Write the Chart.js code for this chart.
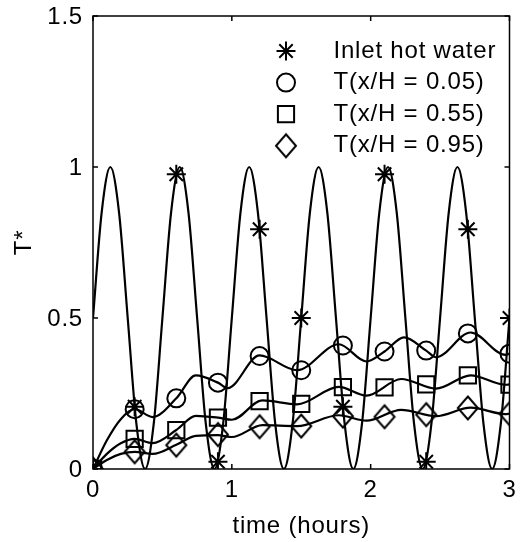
<!DOCTYPE html>
<html>
<head>
<meta charset="utf-8">
<script src="https://cdn.jsdelivr.net/npm/chart.js@4.4.0/dist/chart.umd.min.js"></script>
<style>
body { margin: 0; background: #fff; }
#wrap { width: 523px; height: 542px; }
</style>
</head>
<body>
<div id="wrap"><canvas id="myChart" width="523" height="542"></canvas></div>
<script>
// inlet hot water, smooth curve (hours, T*)
var inletTime = [0, 0.0625, 0.125, 0.1875, 0.25, 0.3125, 0.375, 0.4375,
	0.5, 0.5625, 0.625, 0.6875, 0.75, 0.8125, 0.875, 0.9375,
	1, 1.0625, 1.125, 1.1875, 1.25, 1.3125, 1.375, 1.4375,
	1.5, 1.5625, 1.625, 1.6875, 1.75, 1.8125, 1.875, 1.9375,
	2, 2.0625, 2.125, 2.1875, 2.25, 2.3125, 2.375, 2.4375,
	2.5, 2.5625, 2.625, 2.6875, 2.75, 2.8125, 2.875, 2.9375, 3];
var inletValue = [0.5, 0.85, 1, 0.85, 0.5, 0.15, 0, 0.15,
	0.5, 0.85, 1, 0.85, 0.5, 0.15, 0, 0.15,
	0.5, 0.85, 1, 0.85, 0.5, 0.15, 0, 0.15,
	0.5, 0.85, 1, 0.85, 0.5, 0.15, 0, 0.15,
	0.5, 0.85, 1, 0.85, 0.5, 0.15, 0, 0.15,
	0.5, 0.85, 1, 0.85, 0.5, 0.15, 0, 0.15, 0.5];

// sampled points drawn with markers
var markerTime = [0, 0.3, 0.6, 0.9, 1.2, 1.5, 1.8, 2.1, 2.4, 2.7, 3.0];
var inletMarks = [0, 0.206, 0.976, 0.024, 0.794, 0.5, 0.206, 0.976, 0.024, 0.794, 0.5];
var circleMarks = [0, 0.198, 0.234, 0.286, 0.374, 0.327, 0.409, 0.389, 0.392, 0.449, 0.382];
var squareMarks = [0, 0.1, 0.129, 0.17, 0.225, 0.216, 0.271, 0.27, 0.28, 0.31, 0.279];
var diamondMarks = [0, 0.057, 0.079, 0.114, 0.14, 0.142, 0.175, 0.173, 0.18, 0.202, 0.183];

// smooth curves of the tank temperatures
var circleTime = [0, 0.1, 0.2, 0.3, 0.43, 0.6, 0.74, 0.9, 0.97, 1.2, 1.47, 1.77, 1.97, 2.1, 2.24, 2.4, 2.47, 2.72, 2.97, 3.0];
var circleLine = [0, 0.095, 0.165, 0.198, 0.172, 0.234, 0.31, 0.286, 0.268, 0.376, 0.327, 0.413, 0.356, 0.389, 0.436, 0.392, 0.37, 0.452, 0.378, 0.382];
var lowerTime = [0, 0.1, 0.2, 0.3, 0.43, 0.6, 0.74, 0.9, 1.0, 1.22, 1.47, 1.77, 1.97, 2.22, 2.47, 2.72, 2.97, 3.0];
var squareLine = [0, 0.05, 0.085, 0.1, 0.086, 0.129, 0.176, 0.17, 0.163, 0.227, 0.214, 0.272, 0.243, 0.298, 0.266, 0.31, 0.279, 0.28];
var diamondLine = [0, 0.03, 0.05, 0.057, 0.05, 0.08, 0.11, 0.112, 0.106, 0.145, 0.142, 0.178, 0.16, 0.196, 0.175, 0.203, 0.182, 0.183];

var legendLabels = ['Inlet hot water', 'T(x/H = 0.05)', 'T(x/H = 0.55)', 'T(x/H = 0.95)'];
var xTicks = [0, 1, 2, 3];
var xTickLabels = ['0', '1', '2', '3'];
var yTicks = [0, 0.5, 1, 1.5];
var yTickLabels = ['0', '0.5', '1', '1.5'];
var xLabel = 'time (hours)';
var yLabel = 'T*';

var FONT = "'Liberation Sans', Arial, Helvetica, sans-serif";
var fonte = { family: FONT, size: 24 };
var semGrade = { display: true, drawOnChartArea: false, drawTicks: true, color: 'rgba(0,0,0,0)' };

function pts(t, v){
	return t.map(function(x, i){ return { x: x, y: v[i] }; });
}

// diamond marker (a bit taller than wide, like matlab)
function diamondImg(){
	var c = document.createElement('canvas');
	c.width = 24; c.height = 30;
	var g = c.getContext('2d');
	g.strokeStyle = '#000';
	g.lineWidth = 2;
	g.beginPath();
	g.moveTo(12, 3.5); g.lineTo(22, 15); g.lineTo(12, 26.5); g.lineTo(2, 15);
	g.closePath();
	g.stroke();
	return c;
}
var diamond = diamondImg();

function linha(data){
	return { data: data, borderColor: '#000', borderWidth: 2.2, pointRadius: 0,
		cubicInterpolationMode: 'monotone', fill: false };
}
function marcas(data, style, r){
	return { data: data, showLine: false, pointStyle: style, pointRadius: r,
		pointBorderWidth: 2, pointBorderColor: '#000', pointBackgroundColor: 'rgba(0,0,0,0)' };
}

function drawMarker(c, kind, x, y){
	c.beginPath();
	if (kind == 'star') {
		var r = 9.5, d = r * Math.SQRT1_2;
		c.moveTo(x, y - r); c.lineTo(x, y + r);
		c.moveTo(x - r, y); c.lineTo(x + r, y);
		c.moveTo(x - d, y - d); c.lineTo(x + d, y + d);
		c.moveTo(x - d, y + d); c.lineTo(x + d, y - d);
		c.stroke();
	} else if (kind == 'circle') {
		c.arc(x, y, 9, 0, Math.PI * 2);
		c.stroke();
	} else if (kind == 'rect') {
		c.rect(x - 8.1, y - 8.1, 16.2, 16.2);
		c.stroke();
	} else {
		c.drawImage(diamond, x - 12, y - 15);
	}
}

var boxPlugin = {
	id: 'caixa',
	beforeDraw: function(chart){
		// matlab text is spaced a little wider than Arial
		chart.ctx.letterSpacing = '0.8px';
	},
	afterDatasetsDraw: function(chart){
		var a = chart.chartArea, c = chart.ctx;
		var xs = chart.scales.x, ys = chart.scales.y;
		c.save();
		c.strokeStyle = '#000';
		c.lineWidth = 1.5;
		c.strokeRect(a.left, a.top, a.right - a.left, a.bottom - a.top);
		c.beginPath();
		xTicks.forEach(function(v){
			var px = xs.getPixelForValue(v);
			c.moveTo(px, a.bottom); c.lineTo(px, a.bottom - 5);
			c.moveTo(px, a.top); c.lineTo(px, a.top + 5);
		});
		yTicks.forEach(function(v){
			var py = ys.getPixelForValue(v);
			c.moveTo(a.left, py); c.lineTo(a.left + 5, py);
			c.moveTo(a.right, py); c.lineTo(a.right - 5, py);
		});
		c.stroke();

		// legend inside the axes
		var kinds = ['star', 'circle', 'rect', 'diamond'];
		c.lineWidth = 2;
		c.fillStyle = '#000';
		c.font = '24px ' + FONT;
		c.letterSpacing = '0.8px';
		c.textBaseline = 'middle';
		c.textAlign = 'left';
		for (var i = 0; i < legendLabels.length; i++) {
			var y = 51 + i * 31.6;
			drawMarker(c, kinds[i], 286, y);
			c.fillText(legendLabels[i], 333.5, y);
		}
		c.restore();
	}
};

var ctx = document.getElementById('myChart').getContext('2d');
var myChart = new Chart(ctx, {
	type: 'line',
	data: {
		datasets: [
			linha(pts(inletTime, inletValue)),
			linha(pts(circleTime, circleLine)),
			linha(pts(lowerTime, squareLine)),
			linha(pts(lowerTime, diamondLine)),
			marcas(pts(markerTime, inletMarks), 'star', 9.5),
			marcas(pts(markerTime, circleMarks), 'circle', 9),
			marcas(pts(markerTime, squareMarks), 'rect', 11.5),
			marcas(pts(markerTime, diamondMarks), diamond, 10)
		]
	},
	options: {
		responsive: false,
		animation: false,
		events: [],
		layout: { padding: { top: 16, right: 6, left: 0, bottom: 0 } },
		plugins: { legend: { display: false }, tooltip: { enabled: false } },
		scales: {
			x: {
				type: 'linear', min: 0, max: 3,
				grid: Object.assign({ tickLength: 7 }, semGrade), border: { display: false },
				afterBuildTicks: function(s){ s.ticks = xTicks.map(function(v){ return { value: v }; }); },
				afterFit: function(s){ s.height = 73; },
				ticks: { font: fonte, color: '#000', padding: 0, maxRotation: 0, autoSkip: false,
					callback: function(v, i){ return xTickLabels[i]; } },
				title: { display: true, text: xLabel, font: fonte, color: '#000', padding: { top: 0, bottom: 1 } }
			},
			y: {
				type: 'linear', min: 0, max: 1.5,
				grid: Object.assign({ tickLength: 10 }, semGrade), border: { display: false },
				afterBuildTicks: function(s){ s.ticks = yTicks.map(function(v){ return { value: v }; }); },
				afterFit: function(s){ s.width = 93; },
				ticks: { font: fonte, color: '#000', padding: 0, autoSkip: false, labelOffset: 1,
					callback: function(v, i){ return yTickLabels[i]; } },
				title: { display: true, text: yLabel, font: fonte, color: '#000', padding: { top: 10, bottom: 0 } }
			}
		}
	},
	plugins: [boxPlugin]
});
</script>
</body>
</html>
